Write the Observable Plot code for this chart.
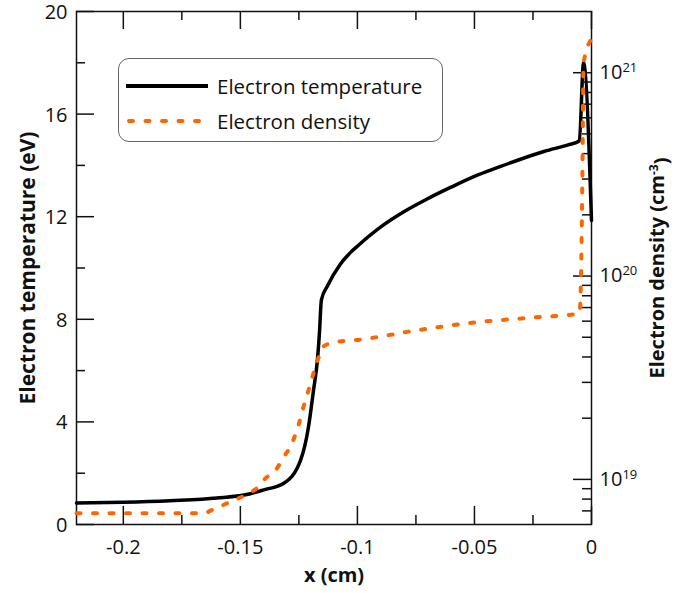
<!DOCTYPE html>
<html><head><meta charset="utf-8">
<script src="https://cdn.jsdelivr.net/npm/d3@7"></script>
<script src="https://cdn.jsdelivr.net/npm/@observablehq/plot@0.6"></script>
<style>
body{margin:0;background:#fff;}
#wrap{position:relative;width:690px;height:593px;font-family:"Open Sans",sans-serif;color:#111;}
#wrap svg{position:absolute;left:0;top:0;}
.legend{position:absolute;left:118px;top:58px;width:325px;height:84px;border:1.3px solid #666;border-radius:11px;box-sizing:border-box;background:#fff;}
.legend .row{position:absolute;left:6px;display:flex;align-items:center;font-size:20.5px;line-height:1;}
.legend svg{position:static !important;margin-right:7px;}
</style></head><body><div id="wrap"></div>
<script>
// ---- data ----
const tempX = [-0.22,-0.2,-0.18,-0.16,-0.1457,-0.14,-0.1316,-0.1243,-0.1209,-0.1188,-0.1171,-0.1162,-0.1154,-0.1128,-0.1073,-0.103,-0.1,-0.09,-0.08,-0.07,-0.06,-0.05,-0.04,-0.03,-0.02,-0.01,-0.0052,-0.0034,0];
const tempT = [0.84,0.87,0.93,1.03,1.2,1.35,1.6,2.5,3.8,5.2,6.4,7.5,8.75,9.3,10.15,10.6,10.85,11.6,12.2,12.7,13.15,13.57,13.92,14.25,14.55,14.8,14.95,18.0,11.85];
const densX = [-0.22,-0.19,-0.1658,-0.1615,-0.1538,-0.1474,-0.1414,-0.1401,-0.135,-0.1316,-0.1278,-0.1252,-0.1231,-0.1209,-0.1188,-0.1167,-0.115,-0.1103,-0.0987,-0.075,-0.05,-0.025,-0.0051,-0.0047,-0.0043,-0.0038,-0.0034,-0.0004];
const densN = [6.81e18,6.81e18,6.81e18,7.13e18,7.8e18,8.43e18,9.44e18,9.89e18,1.107e19,1.28e19,1.52e19,1.84e19,2.26e19,2.74e19,3.32e19,3.94e19,4.46e19,4.71e19,4.87e19,5.4e19,5.91e19,6.25e19,6.55e19,7.84e19,1.29e20,4.0e20,1.11e21,1.44e21];
const xMajor = [-0.2,-0.15,-0.1,-0.05,0];
const xMinor = [-0.175,-0.125,-0.075,-0.025];
const tMajor = [0,4,8,12,16,20];
const tMinor = [2,6,10,14,18];
const nMajor = [1e19,1e20,1e21];
const nMinor = [7e18,8e18,9e18,2e19,3e19,4e19,5e19,6e19,7e19,8e19,9e19,2e20,3e20,4e20,5e20,6e20,7e20,8e20,9e20];
const xDomain = [-0.22, 0];
const tDomain = [0, 20];
const nDomain = [6e18, 2e21];
const xTitle = "x (cm)";
const tTitle = "Electron temperature (eV)";
const nTitle = "Electron density (cm-3)";
const seriesNames = ["Electron temperature", "Electron density"];

// ---- layout ----
const W = 690, H = 593, mL = 76, mR = 99, mT = 11, mB = 69;
const pw = W - mL - mR, ph = H - mT - mB;
const ORANGE = "#ff6600";
const FONT = "Open Sans";

const temp = tempX.map((x, i) => ({x, v: tempT[i]}));
const dens = densX.map((x, i) => ({x, v: densN[i]}));

const common = {width: W, height: H, marginLeft: mL, marginRight: mR, marginTop: mT, marginBottom: mB,
  style: {fontFamily: FONT, fontSize: "20px", color: "#111", background: "transparent", overflow: "visible"}};

const p1 = Plot.plot({
  ...common,
  x: {domain: xDomain},
  y: {domain: tDomain},
  marks: [
    Plot.tickX(xMajor, {x: d => d, insetTop: ph - 18, stroke: "#111", strokeWidth: 1.5}),
    Plot.tickX(xMinor, {x: d => d, insetTop: ph - 9, stroke: "#111", strokeWidth: 1.5}),
    Plot.tickX(xMajor, {x: d => d, insetBottom: ph - 18, stroke: "#111", strokeWidth: 1.5}),
    Plot.tickX(xMinor, {x: d => d, insetBottom: ph - 9, stroke: "#111", strokeWidth: 1.5}),
    Plot.tickY(tMajor, {y: d => d, insetRight: pw - 18, stroke: "#111", strokeWidth: 1.5}),
    Plot.tickY(tMinor, {y: d => d, insetRight: pw - 9, stroke: "#111", strokeWidth: 1.5}),
    Plot.axisX({ticks: xMajor, tickSize: 0, tickPadding: 15, tickFormat: d => String(d), label: null, fontSize: 20}),
    Plot.axisY({ticks: tMajor, tickSize: 0, tickPadding: 9, tickFormat: d => String(d), label: null, fontSize: 20, dy: 1}),
    Plot.frame({stroke: "#111", strokeWidth: 1.5}),
    Plot.line(temp, {x: "x", y: "v", stroke: "#000", strokeWidth: 3.5, curve: "monotone-x", strokeLinejoin: "round"}),
    Plot.text([xTitle], {frameAnchor: "bottom", dy: 57, text: d => d, fontWeight: "bold", fontSize: 20}),
    Plot.text([tTitle], {frameAnchor: "left", textAnchor: "middle", dx: -48, rotate: -90, text: d => d, fontWeight: "bold", fontSize: 21})
  ]
});

const p2 = Plot.plot({
  ...common,
  x: {domain: xDomain, axis: null},
  y: {type: "log", domain: nDomain},
  marks: [
    Plot.tickY(nMajor, {y: d => d, insetLeft: pw - 18, stroke: "#111", strokeWidth: 1.5}),
    Plot.tickY(nMinor, {y: d => d, insetLeft: pw - 9, stroke: "#111", strokeWidth: 1.5}),
    Plot.axisY({anchor: "right", ticks: nMajor, tickSize: 0, tickPadding: 8, tickFormat: d => String(Math.round(Math.log10(d))), label: null, fontSize: 20}),
    Plot.line(dens, {x: "x", y: "v", stroke: ORANGE, strokeWidth: 4, strokeDasharray: "4,12.5", strokeLinecap: "round", curve: "monotone-x"}),
    Plot.text([nTitle], {frameAnchor: "right", textAnchor: "middle", dx: 66, rotate: -90, text: d => d, fontWeight: "bold", fontSize: 20})
  ]
});

const wrap = document.getElementById("wrap");
wrap.appendChild(p1);
wrap.appendChild(p2);

// superscripts on right axis labels and density title
d3.select(p2).selectAll("text").each(function() {
  const s = this.textContent;
  const t = d3.select(this);
  if (/^\d+$/.test(s)) {
    t.text("10");
    t.append("tspan").attr("dy", "-0.55em").attr("font-size", "13px").text(s);
  } else if (s === nTitle) {
    t.text("Electron density (cm");
    t.append("tspan").attr("dy", "-0.5em").attr("font-size", "12px").text("-3");
    t.append("tspan").attr("dy", "0.5em").text(")");
  }
});

// legend
const leg = document.createElement("div");
leg.className = "legend";
const rows = [
  {name: seriesNames[0], top: 17, line: `<line x1="1" y1="6" x2="83" y2="6" stroke="#000" stroke-width="4"/>`},
  {name: seriesNames[1], top: 52, line: `<line x1="4" y1="6" x2="83" y2="6" stroke="${ORANGE}" stroke-width="4" stroke-dasharray="4,12.5" stroke-linecap="round"/>`}
];
rows.forEach(r => {
  const d = document.createElement("div");
  d.className = "row";
  d.style.top = r.top + "px";
  d.innerHTML = `<svg width="85" height="12">${r.line}</svg><span>${r.name}</span>`;
  leg.appendChild(d);
});
wrap.appendChild(leg);
</script></body></html>
